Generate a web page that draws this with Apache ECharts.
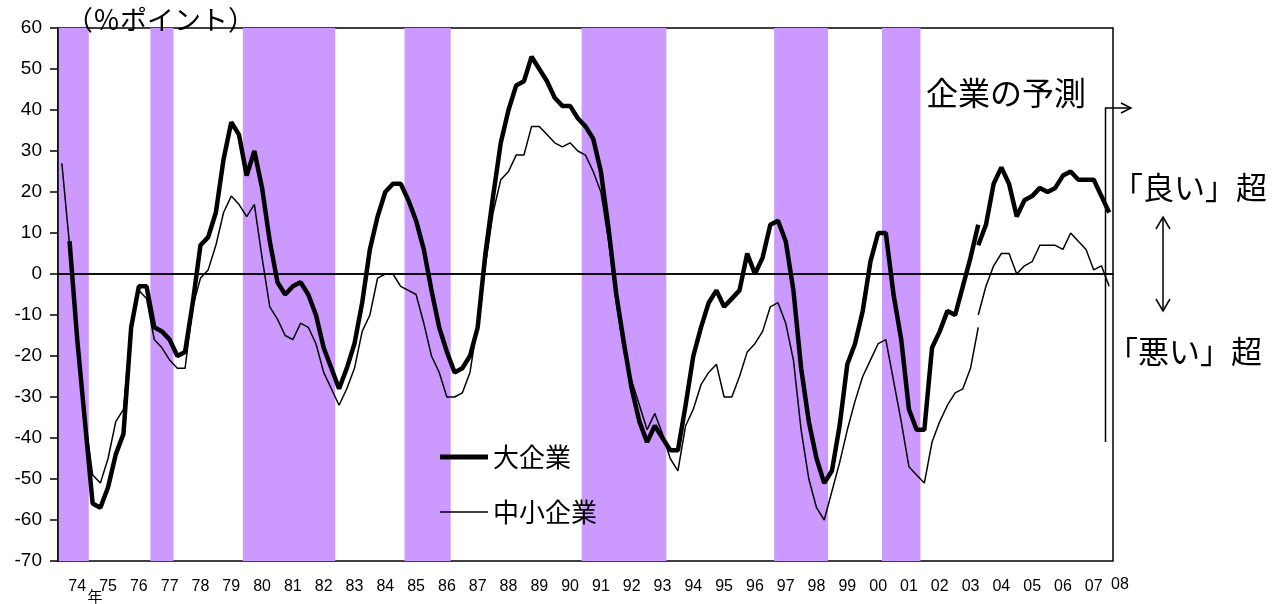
<!DOCTYPE html>
<html><head><meta charset="utf-8">
<script src="https://cdn.jsdelivr.net/npm/echarts@6/dist/echarts.min.js"></script>
<style>html,body{margin:0;padding:0;background:#fff}#c{width:1284px;height:604px}</style>
</head><body><div id="c"></div><script>
// Quarterly categories 1974Q1 .. 2008Q1
const startYear = 1974, endYear = 2008;
const quarters = [];
for (let y = startYear; y <= endYear; y++) {
  for (let q = 1; q <= 4; q++) {
    if (y === endYear && q > 1) break;
    quarters.push(y + 'Q' + q);
  }
}
const tickLabels = ['74','75','76','77','78','79','80','81','82','83','84','85','86','87','88','89','90','91','92','93','94','95','96','97','98','99','00','01','02','03','04','05','06','07','08'];

// 大企業 (old basis, 1974Q1..2003Q4)
const largeOld = [null,8,-16,-36,-56,-57,-52,-44,-39,-13,
  -3,-3,-13,-14,-16,-20,-19,-7,7,9,
  15,28,37,34,24,30,21,8,-2,-5,
  -3,-2,-5,-10,-18,-23,-28,-23,-17,-7,
  6,14,20,22,22,18,13,6,-4,-13,
  -19,-24,-23,-20,-13,5,19,32,40,46,
  47,53,50,47,43,41,41,38,36,33,
  25,11,-5,-17,-28,-36,-41,-37,-40,-43,
  -43,-32,-20,-13,-7,-4,-8,-6,-4,5,
  0,4,12,13,8,-4,-23,-36,-45,-51,
  -48,-37,-22,-17,-9,3,10,10,-5,-16,
  -33,-38,-38,-18,-14,-9,-10,-3,4,12];
// 中小企業 (old basis)
const smallOld = [27,7,-17,-35,-49,-51,-45,-36,-33,-12,
  -4,-6,-16,-18,-21,-23,-23,-8,-1,1,
  7,15,19,17,14,17,4,-8,-11,-15,
  -16,-12,-13,-17,-24,-28,-32,-28,-23,-14,
  -10,-1,0,0,-3,-4,-5,-12,-20,-24,
  -30,-30,-29,-24,-12,2,15,23,25,29,
  29,36,36,34,32,31,32,30,29,25,
  20,8,-7,-19,-26,-32,-38,-34,-39,-45,
  -48,-37,-33,-27,-24,-22,-30,-30,-25,-19,
  -17,-14,-8,-7,-12,-21,-38,-50,-57,-60,
  -53,-46,-38,-31,-25,-21,-17,-16,-26,-36,
  -47,-49,-51,-41,-36,-32,-29,-28,-23,-13];
// new basis, 2003Q4..2008Q1 (last = forecast)
const newStart = '2003Q4';
const largeNew = [7,12,22,26,22,14,18,19,21,20,21,24,25,23,23,23,19,15];
const smallNew = [-10,-3,2,5,5,0,2,3,7,7,7,6,10,8,6,1,2,-3];
// recession periods (shaded)
const recessions = [['1974Q1','1974Q4'],['1977Q1','1977Q3'],['1980Q1','1982Q4'],['1985Q2','1986Q3'],
  ['1991Q1','1993Q3'],['1997Q2','1998Q4'],['2000Q4','2001Q4']];

const N = quarters.length;
function padOld(arr){ const r = arr.slice(); while (r.length < N) r.push(null); return r; }
function padNew(arr){ const s = quarters.indexOf(newStart); const r = new Array(s).fill(null).concat(arr); while (r.length < N) r.push(null); return r; }

const numFont = 'Liberation Sans, Arial, sans-serif';
const jpFont = 'Noto Sans CJK JP, sans-serif';

const chart = echarts.init(document.getElementById('c'), null, {renderer: 'canvas'});
const bandData = recessions.map(p => [{xAxis: quarters.indexOf(p[0])}, {xAxis: quarters.indexOf(p[1]) + 1}]);

chart.setOption({
  animation: false,
  backgroundColor: '#fff',
  grid: {left: 58, right: 171, top: 28, bottom: 43, show: true, borderColor: '#000', borderWidth: 1.5, backgroundColor: 'transparent'},
  legend: {
    orient: 'vertical', left: 435, top: 439, itemWidth: 48, itemHeight: 14, itemGap: 29,
    data: [
      {name: '大企業', icon: 'path://M0,0M48,14M0,4.5L48,4.5L48,9.5L0,9.5Z'},
      {name: '中小企業', icon: 'path://M0,0M48,14M0,6.25L48,6.25L48,7.75L0,7.75Z'}
    ],
    itemStyle: {color: '#000', borderWidth: 0},
    textStyle: {fontFamily: jpFont, fontSize: 26, color: '#000'}
  },
  xAxis: [{
    type: 'category', data: quarters, boundaryGap: true, z: 10,
    axisLine: {lineStyle: {color: '#000', width: 1.5}},
    axisTick: {inside: true, length: 6, lineStyle: {color: '#000', width: 1.5}, interval: (i) => i % 4 === 0},
    axisLabel: {interval: (i) => i % 4 === 2, formatter: (v, i) => tickLabels[Math.floor(i / 4)], color: '#000', fontFamily: numFont, fontSize: 16, margin: 18},
    splitLine: {show: false}
  }, {
    type: 'value', min: 0, max: N, show: false
  }],
  yAxis: {
    type: 'value', min: -70, max: 60, interval: 10, z: 10,
    axisLine: {show: true, lineStyle: {color: '#000', width: 1.5}},
    axisTick: {show: true, inside: false, length: 8, lineStyle: {color: '#000', width: 1.5}},
    axisLabel: {color: '#000', fontFamily: numFont, fontSize: 19, margin: 16},
    splitLine: {show: false}
  },
  series: [
    {type: 'line', xAxisIndex: 1, data: [], silent: true,
     markArea: {silent: true, itemStyle: {color: '#CC99FF'}, data: bandData},
     markLine: {silent: true, symbol: 'none', label: {show: false}, lineStyle: {color: '#000', width: 1.5, type: 'solid'}, data: [{yAxis: 0}]}
    },
    {name: '大企業', type: 'line', data: padOld(largeOld), symbol: 'none', lineStyle: {color: '#000', width: 4.5}, itemStyle: {color: '#000'}},
    {name: '中小企業', type: 'line', data: padOld(smallOld), symbol: 'none', lineStyle: {color: '#000', width: 1.5}, itemStyle: {color: '#000'}},
    {name: '大企業', type: 'line', data: padNew(largeNew), symbol: 'none', lineStyle: {color: '#000', width: 4.5}, itemStyle: {color: '#000'}},
    {name: '中小企業', type: 'line', data: padNew(smallNew), symbol: 'none', lineStyle: {color: '#000', width: 1.5}, itemStyle: {color: '#000'}}
  ],
  graphic: [
    {type: 'text', x: 66, y: 20, z: 20, style: {text: '（％ポイント）', fontFamily: jpFont, fontSize: 27, fill: '#000', textVerticalAlign: 'middle'}},
    {type: 'text', x: 926, y: 93, z: 20, style: {text: '企業の予測', fontFamily: jpFont, fontSize: 32, fill: '#000', textVerticalAlign: 'middle'}},
    {type: 'text', x: 1112, y: 187, z: 20, style: {text: '「良い」超', fontFamily: jpFont, fontSize: 31, fill: '#000', textVerticalAlign: 'middle'}},
    {type: 'text', x: 1107, y: 351, z: 20, style: {text: '「悪い」超', fontFamily: jpFont, fontSize: 31, fill: '#000', textVerticalAlign: 'middle'}},
    {type: 'text', x: 1120, y: 585, z: 20, style: {text: tickLabels[tickLabels.length - 1], fontFamily: numFont, fontSize: 16, fill: '#000', textAlign: 'center', textVerticalAlign: 'middle'}},
    {type: 'text', x: 95, y: 596, z: 20, style: {text: '年', fontFamily: jpFont, fontSize: 15, fill: '#000', textAlign: 'center', textVerticalAlign: 'middle'}},
    {type: 'polyline', z: 20, shape: {points: [[1163, 218], [1163, 310]]}, style: {stroke: '#000', lineWidth: 1.5, fill: null}},
    {type: 'polyline', z: 20, shape: {points: [[1156, 229], [1163, 217], [1170, 229]]}, style: {stroke: '#000', lineWidth: 1.5, fill: null}},
    {type: 'polyline', z: 20, shape: {points: [[1156, 299], [1163, 311], [1170, 299]]}, style: {stroke: '#000', lineWidth: 1.5, fill: null}},
    {type: 'polyline', z: 20, shape: {points: [[1105.5, 442], [1105.5, 108], [1131, 108]]}, style: {stroke: '#000', lineWidth: 1.5, fill: null}},
    {type: 'polyline', z: 20, shape: {points: [[1121, 103], [1131, 108], [1121, 113]]}, style: {stroke: '#000', lineWidth: 1.5, fill: null}}
  ]
});
</script></body></html>
